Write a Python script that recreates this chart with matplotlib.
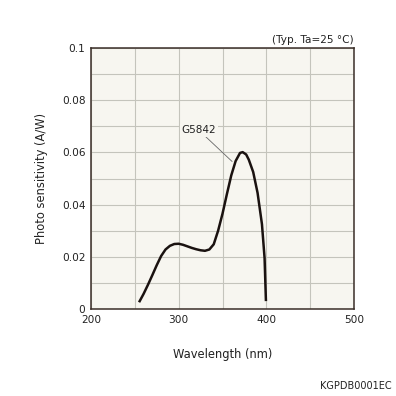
import matplotlib
matplotlib.use('agg')
import matplotlib.pyplot as plt

# Spectral response
wavelength = [255.5, 260, 265, 270, 275, 280, 285, 290, 295, 300, 305, 310, 315, 320,
              325, 330, 335, 340, 345, 350, 355, 360, 365, 370, 373, 377, 380, 385,
              390, 395, 398, 399.5]
sensitivity = [0.0030, 0.0058, 0.0093, 0.0130, 0.0168, 0.0203, 0.0228, 0.0242, 0.0249,
               0.0250, 0.0246, 0.0240, 0.0234, 0.0229, 0.0225, 0.0223, 0.0228, 0.0248,
               0.0300, 0.0365, 0.0440, 0.0512, 0.0567, 0.0598, 0.0601, 0.0592, 0.0572,
               0.0525, 0.0445, 0.0325, 0.0195, 0.0035]
x_ticks = [200, 300, 400, 500]
y_ticks = [0, 0.02, 0.04, 0.06, 0.08, 0.1]
y_tick_labels = ['0', '0.02', '0.04', '0.06', '0.08', '0.1']

fig = plt.figure(figsize=(3.96, 3.96), dpi=100)
ax = fig.add_axes([91/396, 87/396, 263/396, 261/396])
ax.set_facecolor('#f7f6f0')

ax.set_xlim(200, 500)
ax.set_ylim(0, 0.1)
ax.set_xticks(x_ticks)
ax.set_yticks(y_ticks)
ax.set_yticklabels(y_tick_labels)
ax.set_xticks(range(200, 501, 50), minor=True)
ax.set_yticks([i / 100 for i in range(11)], minor=True)
ax.grid(True, which='both', color='#c4c4bc', linewidth=0.8)
ax.tick_params(which='both', length=0, labelsize=7.6, pad=4, colors='#222222')
for s in ax.spines.values():
    s.set_color('#3a2e28')
    s.set_linewidth(1.1)

ax.plot(wavelength, sensitivity, color='#1a1210', linewidth=1.8)

ax.annotate('G5842', xy=(361, 0.0565), xytext=(323, 0.0685),
            fontsize=7.5, ha='center', va='center', color='#222222',
            bbox=dict(boxstyle='square,pad=0.15', fc='#f7f6f0', ec='none'),
            arrowprops=dict(arrowstyle='-', color='#666666', linewidth=0.6,
                            shrinkA=0, shrinkB=0))

ax.set_xlabel('Wavelength (nm)', fontsize=8.3, labelpad=17, color='#222222')
ax.set_ylabel('Photo sensitivity (A/W)', fontsize=8.3, labelpad=10, color='#222222')

fig.text(354/396, 1 - 40/396, '(Typ. Ta=25 °C)', ha='right', va='center',
         fontsize=7.6, color='#222222')
fig.text(392/396, 1 - 386/396, 'KGPDB0001EC', ha='right', va='center',
         fontsize=7, color='#222222')

fig.savefig('out.png', dpi=100, facecolor='white')
